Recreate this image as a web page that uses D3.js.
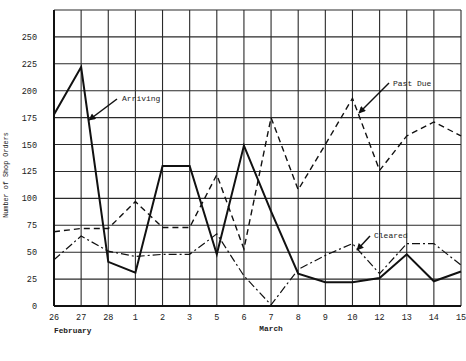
<!DOCTYPE html>
<html>
<head>
<meta charset="utf-8">
<script src="https://cdn.jsdelivr.net/npm/d3@7"></script>
<style>
  body { margin: 0; background: #fff; }
  svg text { font-family: "Courier New", "Liberation Mono", monospace; fill: #222; }
</style>
</head>
<body>
<div id="chart"></div>
<script>
// dates along the bottom (Feb 26 .. Mar 15, working days only)
var days = ["26", "27", "28", "1", "2", "3", "5", "6", "7", "8", "9", "10", "12", "13", "14", "15"];
var arriving = [178, 222, 41, 31, 130, 130, 48, 149, 88, 30, 22, 22, 26, 48, 23, 32];
var pastDue  = [69, 72, 72, 97, 73, 73, 122, 53, 175, 108, 150, 193, 126, 158, 171, 158];
var cleared  = [43, 65, 51, 46, 48, 48, 67, 28, 1, 34, 47, 58, 30, 58, 58, 38];
var yTicks = [0, 25, 50, 75, 100, 125, 150, 175, 200, 225, 250];
var yGrid = [0, 25, 50, 75, 100, 125, 150, 175, 200, 225, 250, 275];

var W = 466, H = 361;
var margin = { top: 10, right: 5, bottom: 55, left: 54 },
    width = W - margin.left - margin.right,
    height = H - margin.top - margin.bottom;

var svg = d3.select("#chart").append("svg")
    .attr("width", W)
    .attr("height", H);

var defs = svg.append("defs");
defs.append("marker")
    .attr("id", "arrow")
    .attr("viewBox", "0 0 10 10")
    .attr("refX", 9)
    .attr("refY", 5)
    .attr("markerWidth", 9)
    .attr("markerHeight", 7)
    .attr("markerUnits", "userSpaceOnUse")
    .attr("orient", "auto")
  .append("path")
    .attr("d", "M0,0 L10,5 L0,10 z")
    .style("fill", "#111");

var g = svg.append("g")
    .attr("transform", "translate(" + margin.left + "," + margin.top + ")");

var x = d3.scalePoint().domain(d3.range(days.length)).range([0, width]);
var y = d3.scaleLinear().domain([0, 275]).range([height, 0]);

// grid
g.selectAll(".hgrid")
    .data(yGrid)
    .enter().append("line")
    .attr("class", "hgrid")
    .attr("x1", 0).attr("x2", width)
    .attr("y1", function(d) { return y(d); })
    .attr("y2", function(d) { return y(d); })
    .style("stroke", "#2a2a2a")
    .style("stroke-width", 1.1);

g.selectAll(".vgrid")
    .data(d3.range(days.length))
    .enter().append("line")
    .attr("class", "vgrid")
    .attr("x1", function(d) { return x(d); })
    .attr("x2", function(d) { return x(d); })
    .attr("y1", 0).attr("y2", height)
    .style("stroke", "#2a2a2a")
    .style("stroke-width", 1.1);

// heavier axis lines
g.append("line").attr("x1", 0).attr("x2", 0).attr("y1", 0).attr("y2", height)
    .style("stroke", "#111").style("stroke-width", 2);
g.append("line").attr("x1", 0).attr("x2", width).attr("y1", height).attr("y2", height)
    .style("stroke", "#111").style("stroke-width", 2);

// tick labels
g.selectAll(".ylab")
    .data(yTicks)
    .enter().append("text")
    .attr("class", "ylab")
    .attr("x", -17)
    .attr("y", function(d) { return y(d) + 3; })
    .style("text-anchor", "end")
    .style("font-size", "8.5px")
    .text(function(d) { return d; });

g.selectAll(".xlab")
    .data(days)
    .enter().append("text")
    .attr("class", "xlab")
    .attr("x", function(d, i) { return x(i); })
    .attr("y", height + 14)
    .style("text-anchor", "middle")
    .style("font-size", "8.5px")
    .text(function(d) { return d; });

g.append("text")
    .attr("x", 0).attr("y", height + 27)
    .style("font-size", "7.8px")
    .style("font-weight", "bold")
    .text("February");

g.append("text")
    .attr("x", x(8)).attr("y", height + 25)
    .style("text-anchor", "middle")
    .style("font-size", "7.8px")
    .style("font-weight", "bold")
    .text("March");

g.append("text")
    .attr("transform", "translate(" + (-46) + "," + (175 - margin.top) + ")rotate(-90)")
    .style("text-anchor", "middle")
    .style("font-size", "6.8px")
    .text("Number of Shop Orders");

// series
var line = d3.line()
    .x(function(d, i) { return x(i); })
    .y(function(d) { return y(d); });

g.append("path").datum(pastDue)
    .attr("d", line)
    .style("fill", "none")
    .style("stroke", "#111")
    .style("stroke-width", 1.4)
    .style("stroke-dasharray", "6,4");

g.append("path").datum(cleared)
    .attr("d", line)
    .style("fill", "none")
    .style("stroke", "#111")
    .style("stroke-width", 1.2)
    .style("stroke-dasharray", "8,3,2,3");

g.append("path").datum(arriving)
    .attr("d", line)
    .style("fill", "none")
    .style("stroke", "#111")
    .style("stroke-width", 2);

// annotations: label position and arrow from (x1,y1) to (x2,y2), page coords
var notes = [
    { label: "Arriving", tx: 122, ty: 101, x1: 117, y1: 99, x2: 89, y2: 120 },
    { label: "Past Due", tx: 393, ty: 86, x1: 389, y1: 83, x2: 359, y2: 113 },
    { label: "Cleared", tx: 374, ty: 238, x1: 370, y1: 236, x2: 357, y2: 250 }
];

var ann = svg.selectAll(".note")
    .data(notes)
    .enter().append("g")
    .attr("class", "note");

ann.append("line")
    .attr("x1", function(d) { return d.x1; })
    .attr("y1", function(d) { return d.y1; })
    .attr("x2", function(d) { return d.x2; })
    .attr("y2", function(d) { return d.y2; })
    .style("stroke", "#111")
    .style("stroke-width", 1.5)
    .attr("marker-end", "url(#arrow)");

ann.append("text")
    .attr("x", function(d) { return d.tx; })
    .attr("y", function(d) { return d.ty; })
    .style("font-size", "8px")
    .text(function(d) { return d.label; });
</script>
</body>
</html>
